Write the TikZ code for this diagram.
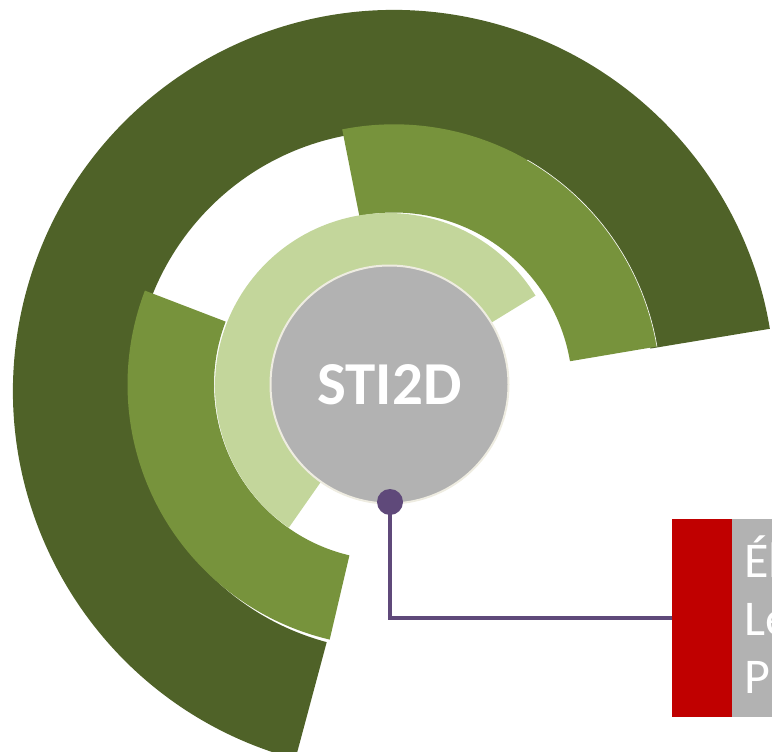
\documentclass[tikz,border=0pt]{standalone}
\usepackage{fontspec}
\newfontfamily\carlito{Carlito}
\definecolor{darkg}{HTML}{4F6228}
\definecolor{midg}{HTML}{77933C}
\definecolor{lightg}{HTML}{C3D69B}
\definecolor{coregray}{HTML}{B2B2B2}
\definecolor{cream}{HTML}{EEECE1}
\definecolor{boxred}{HTML}{C00000}
\definecolor{conpurple}{HTML}{5F497A}
\newcommand\ringsector[6]{% color, center, a1, a2, rin, rout
  \fill[#1] ($#2+(#3:#5pt)$) arc[start angle=#3,end angle=#4,radius=#5pt]
     -- ($#2+(#4:#6pt)$) arc[start angle=#4,end angle=#3,radius=#6pt] -- cycle;}
\usetikzlibrary{calc}
\tikzset{
  conn/.style={draw=conpurple,line width=4.5pt},
  boxtext/.style={anchor=base west,inner sep=0,text=white,font=\carlito\fontsize{50}{58}\selectfont}
}
\begin{document}
\begin{tikzpicture}[x=1pt,y=1pt]
\useasboundingbox (0,0) rectangle (772,-752);
\clip (0,0) rectangle (772,-752);
% rings
\ringsector{darkg}{(394,-391)}{9.4}{255}{260}{381}
\ringsector{midg}{(394,-391)}{9.6}{101.2}{178.5}{266.7}
\draw[white,line width=0.6pt] ($(394,-391)+(9.6:266.7pt)$) arc[start angle=9.6,end angle=60,radius=266.7pt];
\ringsector{midg}{(389.5,-384.5)}{159}{256.8}{175.5}{262}
\ringsector{lightg}{(388,-386)}{31.5}{235}{110}{173}
% core
\node[circle,fill=coregray,draw=cream,line width=2pt,minimum size=238pt,inner sep=0,
      text=white,font=\carlito\bfseries\fontsize{61}{61}\selectfont] (core) at (389.5,-384.5) {STI2D};
% connector and box
\node[circle,fill=conpurple,minimum size=26pt,inner sep=0] (dot) at (390,-502) {};
\node[fill=boxred,minimum width=60pt,minimum height=198pt,anchor=north west,inner sep=0] (red) at (672,-519) {};
\node[fill=coregray,minimum width=100pt,minimum height=198pt,anchor=north west,inner sep=0] (info) at (732,-519) {};
\draw[conn] (dot.center) |- (red.west);
\node[boxtext] (l1) at (744,-577) {Él};
\node[boxtext] (l2) at (744,-635) {Le};
\node[boxtext] (l3) at (744,-693) {Pr};
\end{tikzpicture}
\end{document}
